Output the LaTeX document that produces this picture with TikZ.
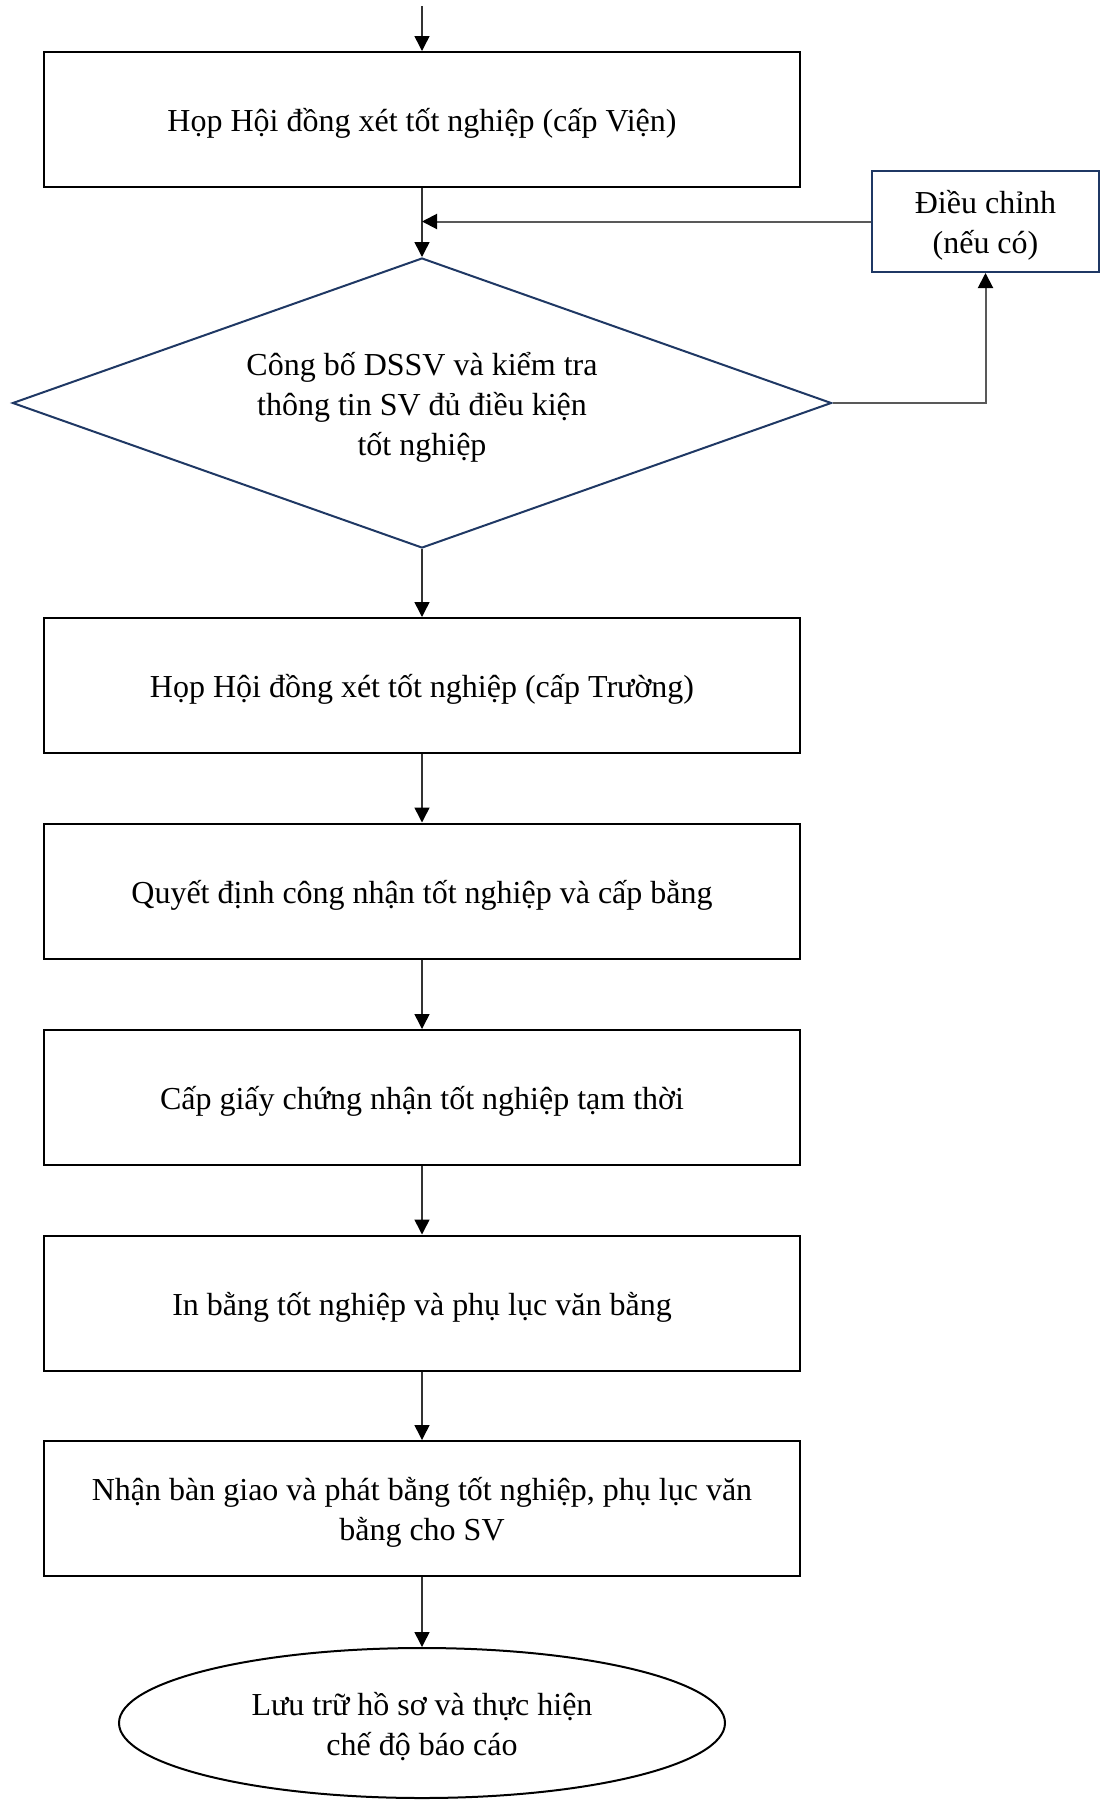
\documentclass[tikz,border=0pt]{standalone}
\usepackage{fontspec}
\setmainfont{Liberation Serif}
\usetikzlibrary{shapes.geometric,arrows.meta}
\definecolor{navy}{HTML}{1F3864}
\definecolor{linkgray}{HTML}{595959}
\definecolor{flowline}{HTML}{333333}
% strut that sets the text a little lower in its shape
\newcommand{\topstrut}{\rule{0pt}{31pt}}
\tikzset{
  every node/.style={font=\fontsize{32}{40}\selectfont, align=center},
  stepbox/.style={draw=black, line width=2pt, minimum width=756pt, minimum height=135pt, inner sep=0pt},
  choice/.style={shape=diamond, draw=navy, line width=2pt, minimum width=819pt, minimum height=290pt, shape aspect=2.82, inner sep=0pt},
  fixbox/.style={draw=navy, line width=2pt, minimum width=227pt, minimum height=101pt, inner sep=0pt},
  endcap/.style={shape=ellipse, draw=black, line width=2pt, minimum width=606pt, minimum height=150pt, inner sep=0pt},
  flow/.style={draw=flowline, line width=1.5pt, -{Triangle[length=15pt,width=15pt,color=black]}},
  loop/.style={draw=linkgray, line width=2pt, -{Triangle[length=15pt,width=15pt,color=black]}}
}
\begin{document}
\begin{tikzpicture}[x=1pt,y=-1pt]
\useasboundingbox (0,0) rectangle (1101,1800);

% process steps
\coordinate (start) at (422,6);
\node[stepbox] (vien) at (422,119.5) {\topstrut Họp Hội đồng xét tốt nghiệp (cấp Viện)};
\node[fixbox] (fix) at (985.5,221.5) {\topstrut Điều chỉnh\\(nếu có)};
\node[choice] (check) at (422,403) {\topstrut Công bố DSSV và kiểm tra\\thông tin SV đủ điều kiện\\tốt nghiệp};
\node[stepbox] (truong) at (422,685.5) {\topstrut Họp Hội đồng xét tốt nghiệp (cấp Trường)};
\node[stepbox] (qd) at (422,891) {\topstrut Quyết định công nhận tốt nghiệp và cấp bằng};
\node[stepbox] (gcn) at (422,1097.5) {\topstrut Cấp giấy chứng nhận tốt nghiệp tạm thời};
\node[stepbox] (in) at (422,1303) {\topstrut In bằng tốt nghiệp và phụ lục văn bằng};
\node[stepbox] (giao) at (422,1508.5) {\topstrut Nhận bàn giao và phát bằng tốt nghiệp, phụ lục văn\\bằng cho SV};
\node[endcap] (luu) at (422,1723) {\topstrut Lưu trữ hồ sơ và thực hiện\\chế độ báo cáo};

% main flow
\draw[flow] (start) -- (vien.north);
\draw[flow] (vien.south) -- (check.north);
\draw[flow] (check.south) -- (truong.north);
\draw[flow] (truong.south) -- (qd.north);
\draw[flow] (qd.south) -- (gcn.north);
\draw[flow] (gcn.south) -- (in.north);
\draw[flow] (in.south) -- (giao.north);
\draw[flow] (giao.south) -- (luu.north);

% correction loop
\coordinate (merge) at (vien.south |- fix.west);
\draw[loop] (check.east) -| (fix.south);
\draw[loop] (fix.west) -- (merge);
\end{tikzpicture}
\end{document}
